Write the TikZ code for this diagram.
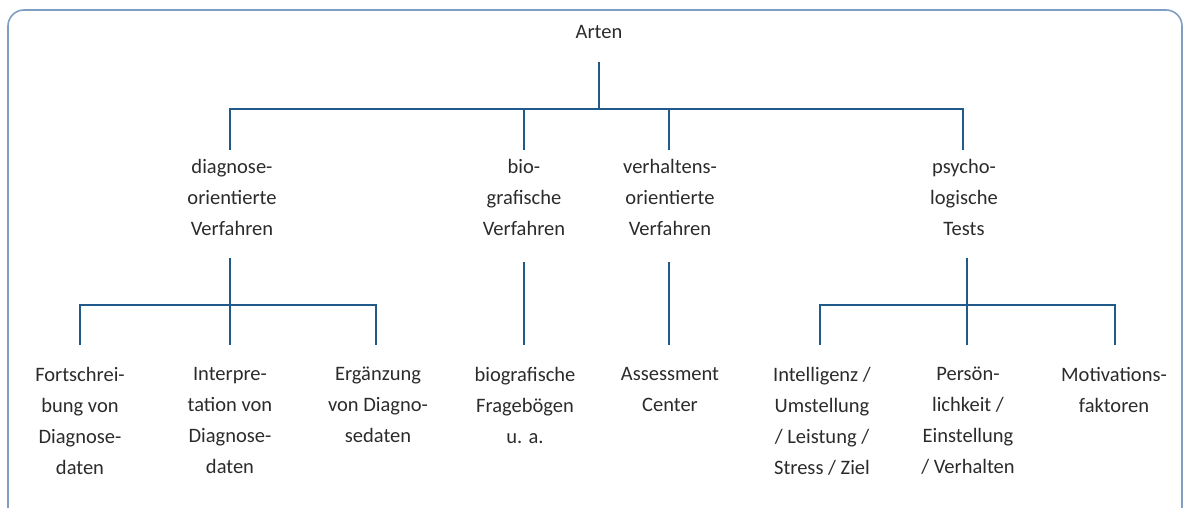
\documentclass[tikz,border=0pt]{standalone}
\usepackage{fontspec}
\setmainfont{Carlito}
\usetikzlibrary{positioning}

\definecolor{framecol}{HTML}{7F9FC2}
\definecolor{conncol}{HTML}{1F5A8A}
\definecolor{txtcol}{HTML}{2B2B2B}

\begin{document}
\begin{tikzpicture}[x=1pt, y=-1pt,
      label_node/.style ={rectangle, draw=none, align=center, inner sep=0pt,
        anchor=north, text=txtcol, font=\fontsize{20.5}{31}\selectfont},
      line/.style ={draw=conncol, line width=2.8pt}]
    \useasboundingbox (0,0) rectangle (1184,508);
    \clip (0,0) rectangle (1184,508);
    % frame
    \draw[framecol, line width=1.6pt, rounded corners=16pt] (8,10) rectangle (1182,530);
    %
    % 1. nodes
    \node [label_node] (arten) at (599,25) {Arten};
    % level 2
    \node [label_node] (diag) at (232,159) {diagnose-\\orientierte\\Verfahren};
    \node [label_node] (bio)  at (524,159) {bio-\\grafische\\Verfahren};
    \node [label_node] (verh) at (670,159) {verhaltens-\\orientierte\\Verfahren};
    \node [label_node] (psy)  at (964,159) {psycho-\\logische\\Tests};
    % level 3
    \node [label_node] (fort)  at (80,367)  {Fortschrei-\\bung von\\Diagnose-\\daten};
    \node [label_node] (inter) at (230,367) {Interpre-\\tation von\\Diagnose-\\daten};
    \node [label_node] (erg)   at (378,367) {Ergänzung\\von Diagno-\\sedaten};
    \node [label_node] (frag)  at (525,367) {biografische\\Fragebögen\\u. a.};
    \node [label_node] (assess) at (670,367) {Assessment\\Center};
    \node [label_node] (intel) at (822,367) {Intelligenz /\\Umstellung\\/ Leistung /\\Stress / Ziel};
    \node [label_node] (pers)  at (968,367) {Persön-\\lichkeit /\\Einstellung\\/ Verhalten};
    \node [label_node] (motiv) at (1114,367) {Motivations-\\faktoren};
    %
    % 2. junction points
    \coordinate (arten_b) at (599,62);
    \coordinate (bar1) at (599,109);
    \coordinate (diag_t) at (230,150);
    \coordinate (bio_t)  at (524,150);
    \coordinate (verh_t) at (669,150);
    \coordinate (psy_t)  at (963,150);
    \coordinate (diag_b) at (230,258);
    \coordinate (bio_b)  at (524,262);
    \coordinate (verh_b) at (669,262);
    \coordinate (psy_b)  at (967,258);
    \coordinate (bar2) at (230,305);
    \coordinate (bar3) at (967,305);
    \coordinate (fort_t)  at (80,345);
    \coordinate (inter_t) at (230,345);
    \coordinate (erg_t)   at (376,345);
    \coordinate (frag_t)  at (524,345);
    \coordinate (assess_t) at (669,345);
    \coordinate (intel_t) at (820,345);
    \coordinate (pers_t)  at (967,345);
    \coordinate (motiv_t) at (1115,345);
    %
    % 3. connecting paths
    \begin{scope}[every path/.style=line]
      \path (arten_b) -- (bar1);
      \path (diag_t) |- (bar1) -| (psy_t);
      \path (bio_t)  -- (bio_t |- bar1);
      \path (verh_t) -- (verh_t |- bar1);
      %
      \path (diag_b) -- (inter_t);
      \path (fort_t) |- (bar2) -| (erg_t);
      \path (bio_b)  -- (frag_t);
      \path (verh_b) -- (assess_t);
      \path (psy_b)  -- (pers_t);
      \path (intel_t) |- (bar3) -| (motiv_t);
    \end{scope}
\end{tikzpicture}
\end{document}
